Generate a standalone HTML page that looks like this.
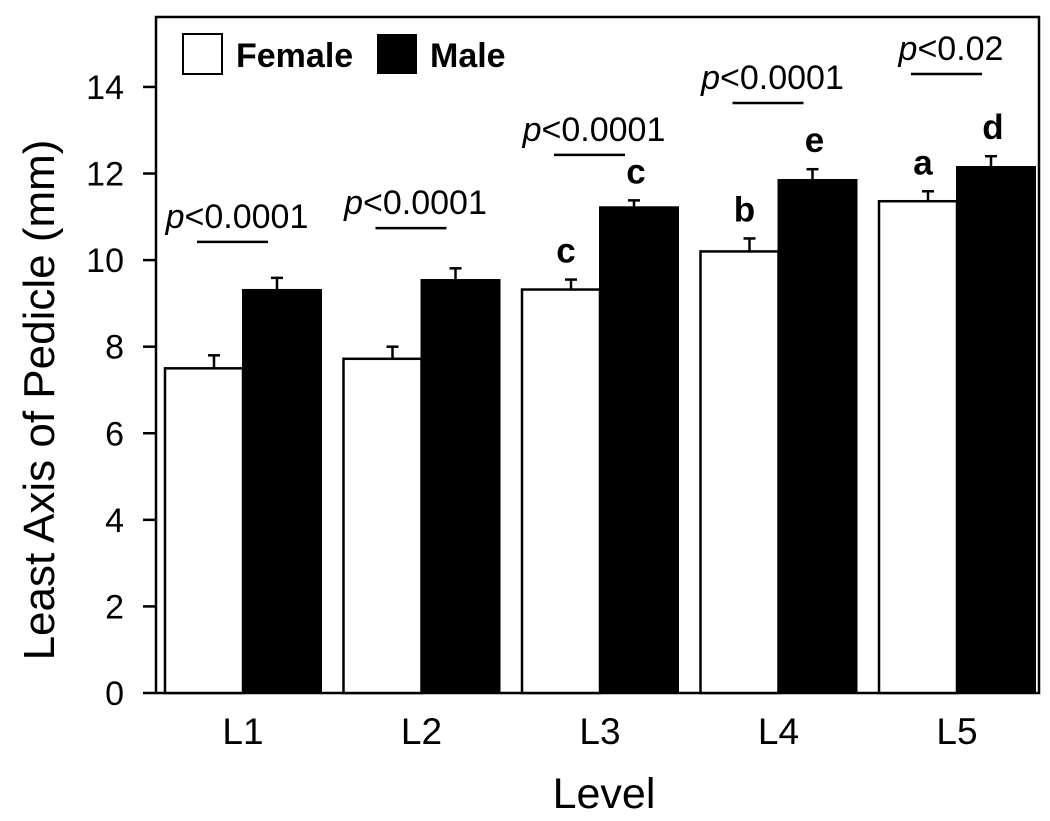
<!DOCTYPE html>
<html><head><meta charset="utf-8"><style>
body{margin:0;background:#fff;}
svg text{font-family:"Liberation Sans",Arial,sans-serif;}
</style></head><body>
<svg width="1050" height="816" viewBox="0 0 1050 816" xmlns="http://www.w3.org/2000/svg" id="chart"></svg>
<script>
const categories=["L1","L2","L3","L4","L5"];
const femaleValues=[7.5,7.72,9.32,10.2,11.36];
const maleValues=[9.31,9.54,11.22,11.85,12.15];
const femaleErr=[0.3,0.28,0.23,0.3,0.23];
const maleErr=[0.28,0.27,0.16,0.25,0.25];
const femaleLetters=["","","c","b","a"];
const maleLetters=["","","c","e","d"];
const pLabels=["<0.0001","<0.0001","<0.0001","<0.0001","<0.02"];
const pHeights=[10.42,10.74,12.43,13.63,14.3];
const yTicks=[0,2,4,6,8,10,12,14];
const NS="http://www.w3.org/2000/svg";
const svg=document.getElementById('chart');
function mk(t,a,txt){const e=document.createElementNS(NS,t);for(const k in a)e.setAttribute(k,a[k]);if(txt!==undefined)e.textContent=txt;svg.appendChild(e);return e;}
const y0=693,ppu=43.29;
function y(v){return y0-v*ppu;}
function xg(i){return 243+i*178.5;}
const bw=78;
let e=mk('rect',{x:156,y:17,width:883,height:676,fill:'none',stroke:'#000','stroke-width':2.5});

yTicks.forEach(t=>{
 let l=mk('line',{x1:143,x2:156,y1:y(t),y2:y(t),stroke:'#000','stroke-width':2.5});
 
 let tx=mk('text',{x:124,y:y(t)+12,'font-size':34,'text-anchor':'end'},String(t));
 
});
categories.forEach((c,i)=>{
 const cx=xg(i);
 const fy=y(femaleValues[i]),my=y(maleValues[i]);
 let r=mk('rect',{x:cx-bw,y:fy,width:bw,height:y0-fy,fill:'#fff',stroke:'#000','stroke-width':2.5});
 
 r=mk('rect',{x:cx,y:my,width:bw,height:y0-my,fill:'#000',stroke:'#000','stroke-width':2});
 
 [[cx-bw/2+10,femaleValues[i],femaleErr[i],'female'],[cx+bw/2-5,maleValues[i],maleErr[i],'male']].forEach(([ex,v,er,s])=>{
  let l=mk('line',{x1:ex,x2:ex,y1:y(v),y2:y(v+er),stroke:'#000','stroke-width':2.5});
  
  l=mk('line',{x1:ex-6,x2:ex+6,y1:y(v+er),y2:y(v+er),stroke:'#000','stroke-width':2.5});
  
 });
 if(femaleLetters[i]){let t=mk('text',{x:cx-bw/2+5,y:y(femaleValues[i]+femaleErr[i])-17,'font-size':35,'font-weight':'bold','text-anchor':'middle'},femaleLetters[i]);}
 if(maleLetters[i]){let t=mk('text',{x:cx+bw/2-3,y:y(maleValues[i]+maleErr[i])-17,'font-size':35,'font-weight':'bold','text-anchor':'middle'},maleLetters[i]);}
 const py=y(pHeights[i]);
 let pl=mk('line',{x1:cx-46,x2:cx+25,y1:py,y2:py,stroke:'#000','stroke-width':2.5});
 
 let pt=mk('text',{x:cx-6,y:py-14,'font-size':34,'text-anchor':'middle'});
 
 const ts=document.createElementNS(NS,'tspan');ts.setAttribute('font-style','italic');ts.textContent='p';pt.appendChild(ts);
 pt.appendChild(document.createTextNode(pLabels[i]));
 let xl=mk('text',{x:cx,y:744,'font-size':37,'text-anchor':'middle'},c);
 
});
let t=mk('text',{x:604,y:808,'font-size':43,'text-anchor':'middle'},'Level');

t=mk('text',{x:0,y:0,'font-size':44,'text-anchor':'middle',transform:'translate(54,400) rotate(-90)'},'Least Axis of Pedicle (mm)');

let lg=mk('rect',{x:183,y:34,width:39,height:40,fill:'#fff',stroke:'#000','stroke-width':2});

t=mk('text',{x:236,y:67,'font-size':34,'font-weight':'bold'},'Female');

lg=mk('rect',{x:377,y:34,width:40,height:40,fill:'#000'});

t=mk('text',{x:430,y:67,'font-size':34,'font-weight':'bold'},'Male');

</script>
</body></html>
